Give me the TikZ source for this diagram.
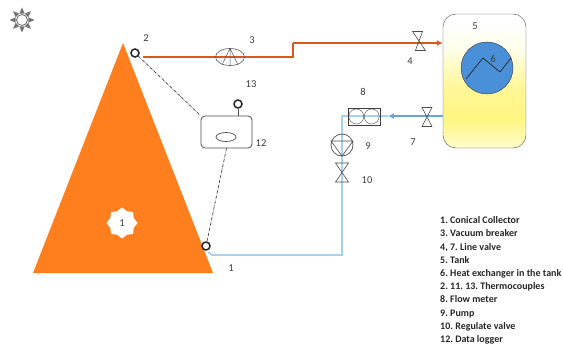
\documentclass[tikz,border=0pt]{standalone}
\usepackage{fontspec}
\setmainfont{Carlito}
\usetikzlibrary{arrows.meta,positioning,shapes,shapes.misc,calc}
\definecolor{collector}{HTML}{FF7F1E}
\definecolor{hotline}{HTML}{D9591C}
\definecolor{coldline}{HTML}{A8D0F2}
\definecolor{coilblue}{HTML}{4A90D9}
\definecolor{inkgray}{HTML}{3A3A3A}
\pgfdeclareverticalshading{tankfill}{100bp}{rgb(0bp)=(1,1,.85);rgb(25bp)=(1,.99,.8);rgb(36bp)=(1,.96,.5);rgb(48bp)=(1,.97,.6);rgb(62bp)=(1,.995,.92);rgb(72bp)=(1,1,1);rgb(100bp)=(1,1,1)}
\tikzset{
  lbl/.style={font=\fontsize{10.5}{12}\selectfont, text=inkgray, inner sep=0pt},
  legend/.style={font=\fontsize{10}{13.2}\selectfont\bfseries\frenchspacing, text=black!85, inner sep=0pt, align=left, anchor=north west},
  tcouple/.style={draw=black!85, line width=1.5pt, circle, minimum size=8pt, inner sep=0pt},
  hotpipe/.style={hotline, line width=1.6pt},
  coldpipe/.style={coldline, line width=1.8pt},
  signal/.style={black!75, densely dashdotted, line width=0.7pt},
  valve/.pic={\draw[black!70, line width=0.6pt] (-5,-9.5) -- (5,-9.5) -- (-5,9.5) -- (5,9.5) -- cycle;}
}
\begin{document}
\begin{tikzpicture}[x=1pt,y=-1pt]
\useasboundingbox (0,0) rectangle (563,345);
% collector
\coordinate (apex) at (123,43);
\coordinate (baseleft) at (33,273);
\coordinate (baseright) at (213,273);
\fill[collector] (apex) -- (baseright) -- (baseleft) -- cycle;
\node[star, star points=8, star point ratio=1.22, fill=white, minimum size=31pt, inner sep=0pt, lbl] (core) at (122,223) {1};
% sun
\node[circle, draw=black!60, line width=0.8pt, minimum size=11pt, inner sep=0pt] (sun) at (22,20) {};
\foreach \a in {0,45,...,315}
  \fill[black!55] ($(sun)+(\a:12.5)$) -- ($(sun)+(\a+22:7)$) -- ($(sun)+(\a-22:7)$) -- cycle;
% tank
\node[draw=black!70, rounded corners=13pt, minimum width=83pt, minimum height=134pt, shading=tankfill] (tank) at (484.5,81) {};
\node[draw=black!80, fill=coilblue, circle, minimum size=52pt, inner sep=0pt] (coil) at (487,68) {};
\draw[black!85, line width=0.7pt] (466,79) -- (483,58) -- (500,72) -- (511,58);
% thermocouples and logger
\node[tcouple] (tctop) at (135,53) {};
\node[tcouple] (tclow) at (206,246) {};
\node[tcouple] (tclog) at (238,104) {};
\node[draw=black!70, line width=0.8pt, rounded corners=4pt, minimum width=51pt, minimum height=32pt] (logger) at (226.5,132) {};
\node[draw=black!70, line width=0.7pt, ellipse, minimum width=20pt, minimum height=9pt, inner sep=0pt] (display) at (226,137) {};
\draw[black!70, line width=0.6pt] (tclog) -- (tclog |- logger.north);
\draw[signal] (tctop) -- (logger.north west);
\draw[signal] (logger.south) -- (tclow);
% hot line
\coordinate (hotstart) at (143,57);
\coordinate (hotbend) at (293,57);
\coordinate (hotrise) at (293,43);
\coordinate (hotend) at (tank.west |- hotrise);
\draw[hotpipe] (hotstart) -- (hotbend) -- (hotrise);
\draw[hotpipe, -{Latex[length=6pt,width=6pt]}] (hotrise) -- (hotend);
\node[draw=black!65, line width=0.6pt, ellipse, minimum width=29pt, minimum height=17pt, inner sep=0pt] (breaker) at (230,57) {};
\draw[black!65, line width=0.5pt] (breaker.north) -- (breaker.south) (breaker.north) -- (222,65) (breaker.north) -- (238,65);
\coordinate (valvefour) at (419,41);
\pic[xslant=-0.15] at (valvefour) {valve};
% cold line
\coordinate (coldstart) at (443,116);
\coordinate (coldtip) at (388,116);
\coordinate (coldbend) at (342,116);
\coordinate (coldlow) at (342,255);
\coordinate (coldend) at (208,252);
\draw[coldpipe, -{Latex[length=6pt,width=6pt]}, coilblue!70!coldline] (coldstart) -- (coldtip);
\draw[coldpipe] (coldtip) -- (coldbend) -- (coldlow) -- (212,255) -- (coldend);
\coordinate (valveseven) at (427,117);
\pic at (valveseven) {valve};
\node[draw=black!75, line width=0.8pt, minimum width=32pt, minimum height=17pt, inner sep=0pt] (meter) at (364,116.5) {};
\node[draw=black!70, circle, minimum size=15pt, inner sep=0pt, right=1pt of meter.west] (meterleft) {};
\node[draw=black!70, circle, minimum size=15pt, inner sep=0pt, left=1pt of meter.east] (meterright) {};
\node[draw=black!70, line width=0.7pt, circle, minimum size=22pt, inner sep=0pt] (pump) at (342,145) {};
\draw[black!70, line width=0.6pt] (331,141) -- (353,141) -- (342,156) -- cycle;
\coordinate (valveten) at (342,172.5);
\pic[xscale=1.3] at (valveten) {valve};
% numbers
\node[lbl] (numtwo) at (146,38) {2};
\node[lbl] (numthree) at (252,40) {3};
\node[lbl] (numfour) at (410,61) {4};
\node[lbl] (numfive) at (475,26) {5};
\node[lbl] (numsix) at (493,59) {6};
\node[lbl] (numseven) at (413,142) {7};
\node[lbl] (numeight) at (363,92) {8};
\node[lbl] (numnine) at (368,146) {9};
\node[lbl] (numten) at (367,180) {10};
\node[lbl] (numtwelve) at (261,143) {12};
\node[lbl] (numthirteen) at (251,84) {13};
\node[lbl] (numone) at (231,268) {1};
% legend
\node[legend] (key) at (440,216.5) {1. Conical Collector\\3. Vacuum breaker\\4, 7. Line valve\\5. Tank\\6. Heat exchanger in the tank\\2. 11. 13. Thermocouples\\8. Flow meter\\9. Pump\\10. Regulate valve\\12. Data logger};
\end{tikzpicture}
\end{document}
